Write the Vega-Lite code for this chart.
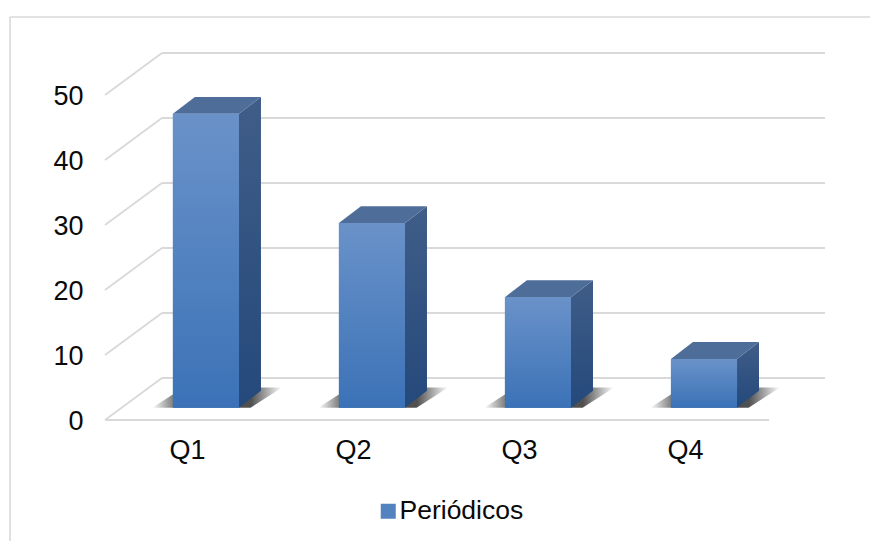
{
  "$schema": "https://vega.github.io/schema/vega-lite/v6.json",
  "width": 720,
  "height": 367,
  "autosize": {"type": "none"},
  "padding": {"left": 105, "top": 53, "right": 45, "bottom": 121},
  "background": "white",
  "config": {"view": {"stroke": null}, "font": "Liberation Sans"},
  "datasets": {
    "trimestres": [
      {"trimestre": "Q1", "orden": 0, "valor": 45.2, "serie": "Periódicos"},
      {"trimestre": "Q2", "orden": 1, "valor": 28.4, "serie": "Periódicos"},
      {"trimestre": "Q3", "orden": 2, "valor": 17.0, "serie": "Periódicos"},
      {"trimestre": "Q4", "orden": 3, "valor": 7.5, "serie": "Periódicos"}
    ],
    "niveles": [{"nivel": 0}, {"nivel": 10}, {"nivel": 20}, {"nivel": 30}, {"nivel": 40}, {"nivel": 50}]
  },
  "layer": [
    {
      "data": {"values": [{}]},
      "mark": {"type": "rule", "color": "#d9d9d9", "strokeWidth": 1.6},
      "encoding": {
        "x": {"datum": -0.572, "type": "quantitative", "scale": {"domain": [0, 4.337], "nice": false}, "axis": {
          "values": [0.5, 1.5, 2.5, 3.5],
          "labelExpr": "'Q' + (datum.value + 0.5)",
          "title": null, "domain": false, "ticks": false, "grid": false,
          "labelFontSize": 27, "labelColor": "#0a0a0a", "labelPadding": 17, "labelFlush": false, "labelOffset": -1
        }},
        "y": {"datum": 62.0, "type": "quantitative", "scale": {"domain": [0, 56.46], "nice": false}, "axis": {
          "values": [0, 10, 20, 30, 40, 50],
          "title": null, "domain": false, "ticks": false, "grid": false,
          "labelFontSize": 27, "labelColor": "#0a0a0a", "labelPadding": 22, "labelOffset": 1.5
        }},
        "y2": {"datum": -18.6}
      }
    },
    {
      "data": {"values": [{}]},
      "mark": {"type": "rule", "color": "#d9d9d9", "strokeWidth": 1.6},
      "encoding": {
        "x": {"datum": -0.572, "type": "quantitative"},
        "x2": {"datum": 4.62},
        "y": {"datum": 62.0, "type": "quantitative"}
      }
    },
    {
      "description": "Back wall gridlines",
      "data": {"name": "niveles"},
      "transform": [{"calculate": "datum.nivel + 6.46", "as": "fondo"}],
      "mark": {"type": "rule", "color": "#d9d9d9", "strokeWidth": 1.8},
      "encoding": {
        "x": {"datum": 0.343, "type": "quantitative"},
        "x2": {"datum": 4.337},
        "y": {"field": "fondo", "type": "quantitative"}
      }
    },
    {
      "description": "Diagonal side wall lines",
      "data": {"name": "niveles"},
      "transform": [
        {"calculate": "datum.nivel + 6.46", "as": "fondo"},
        {"calculate": "0", "as": "x0"},
        {"calculate": "0.343", "as": "x1"}
      ],
      "mark": {"type": "rule", "color": "#d9d9d9", "strokeWidth": 1.8},
      "encoding": {
        "x": {"field": "x0", "type": "quantitative"},
        "x2": {"field": "x1"},
        "y": {"field": "nivel", "type": "quantitative"},
        "y2": {"field": "fondo"}
      }
    },
    {
      "description": "Front floor edge",
      "data": {"values": [{}]},
      "mark": {"type": "rule", "color": "#d9d9d9", "strokeWidth": 1.8},
      "encoding": {
        "x": {"datum": 0, "type": "quantitative"},
        "x2": {"datum": 4},
        "y": {"datum": 0, "type": "quantitative"}
      }
    },
    {
      "description": "Soft shadow under each column",
      "data": {"name": "trimestres"},
      "transform": [
        {"calculate": "0", "as": "d0"},
        {"calculate": "1", "as": "d1"},
        {"fold": ["d0", "d1"], "as": ["clave", "d"]},
        {"calculate": "datum.orden + 0.5 + 0.108 - 0.199 - 0.125 + datum.d * 0.19", "as": "izq"},
        {"calculate": "datum.orden + 0.5 + 0.108 + 0.199 + 0.07 + datum.d * 0.19", "as": "der"},
        {"calculate": "1.9 + datum.d * 3.1", "as": "nivelSombra"}
      ],
      "mark": {
        "type": "area", "orient": "horizontal",
        "color": {
          "gradient": "linear", "x1": 0, "x2": 1, "y1": 0, "y2": 0,
          "stops": [
            {"offset": 0, "color": "rgba(80,80,80,0)"},
            {"offset": 0.22, "color": "rgba(80,80,80,1)"},
            {"offset": 0.76, "color": "rgba(80,80,80,1)"},
            {"offset": 1, "color": "rgba(80,80,80,0)"}
          ]
        }
      },
      "encoding": {
        "detail": {"field": "trimestre"},
        "x": {"field": "izq", "type": "quantitative", "stack": null},
        "x2": {"field": "der"},
        "y": {"field": "nivelSombra", "type": "quantitative"}
      }
    },
    {
      "description": "Side face of each column",
      "data": {"name": "trimestres"},
      "transform": [
        {"calculate": "0", "as": "d0"},
        {"calculate": "1", "as": "d1"},
        {"fold": ["d0", "d1"], "as": ["clave", "d"]},
        {"calculate": "datum.orden + 0.5 + 0.108 + 0.199 + datum.d * 0.1325", "as": "xCara"},
        {"calculate": "1.9 + datum.valor + datum.d * 2.6", "as": "arriba"},
        {"calculate": "1.9 + datum.d * 2.6", "as": "abajo"}
      ],
      "mark": {
        "type": "area", "orient": "vertical",
        "color": {
          "gradient": "linear", "x1": 0, "x2": 0, "y1": 0, "y2": 1,
          "stops": [{"offset": 0, "color": "#405d88"}, {"offset": 1, "color": "#24497b"}]
        }
      },
      "encoding": {
        "detail": {"field": "trimestre"},
        "x": {"field": "xCara", "type": "quantitative"},
        "y": {"field": "arriba", "type": "quantitative", "stack": null},
        "y2": {"field": "abajo"}
      }
    },
    {
      "description": "Top face of each column",
      "data": {"name": "trimestres"},
      "transform": [
        {"calculate": "0", "as": "d0"},
        {"calculate": "1", "as": "d1"},
        {"fold": ["d0", "d1"], "as": ["clave", "d"]},
        {"calculate": "datum.orden + 0.5 + 0.108 - 0.199 + datum.d * 0.1325", "as": "izq"},
        {"calculate": "datum.orden + 0.5 + 0.108 + 0.199 + datum.d * 0.1325", "as": "der"},
        {"calculate": "1.9 + datum.valor + datum.d * 2.6", "as": "arriba"}
      ],
      "mark": {"type": "area", "orient": "horizontal", "color": "#4e6d98"},
      "encoding": {
        "detail": {"field": "trimestre"},
        "x": {"field": "izq", "type": "quantitative", "stack": null},
        "x2": {"field": "der"},
        "y": {"field": "arriba", "type": "quantitative"}
      }
    },
    {
      "description": "Solid base of each front face, carrying the legend",
      "data": {"name": "trimestres"},
      "transform": [
        {"calculate": "datum.orden + 0.5 + 0.108 - 0.199", "as": "izq"},
        {"calculate": "datum.orden + 0.5 + 0.108 + 0.199", "as": "der"},
        {"calculate": "1.9 + datum.valor", "as": "arriba"},
        {"calculate": "1.9", "as": "abajo"}
      ],
      "mark": {"type": "rect"},
      "encoding": {
        "x": {"field": "izq", "type": "quantitative"},
        "x2": {"field": "der"},
        "y": {"field": "arriba", "type": "quantitative"},
        "y2": {"field": "abajo"},
        "color": {
          "field": "serie", "type": "nominal",
          "scale": {"range": ["#5282c0"]},
          "legend": {
            "title": null, "orient": "none", "legendX": 270, "legendY": 445,
            "symbolType": "square", "symbolSize": 225, "symbolStrokeWidth": 0,
            "labelFontSize": 26.5, "labelColor": "#0a0a0a", "labelOffset": -2,
            "symbolOpacity": 1,
            "encoding": {"symbols": {"fill": {"value": {
              "gradient": "linear", "x1": 0, "x2": 0, "y1": 0, "y2": 1,
              "stops": [{"offset": 0, "color": "#6a92c9"}, {"offset": 1, "color": "#3b72b7"}]
            }}}}
          }
        }
      }
    },
    {
      "description": "Shaded front face of each column",
      "data": {"name": "trimestres"},
      "transform": [
        {"calculate": "datum.orden + 0.5 + 0.108 - 0.199", "as": "izq"},
        {"calculate": "datum.orden + 0.5 + 0.108 + 0.199", "as": "der"},
        {"calculate": "1.9 + datum.valor", "as": "arriba"},
        {"calculate": "1.9", "as": "abajo"}
      ],
      "mark": {
        "type": "rect",
        "color": {
          "gradient": "linear", "x1": 0, "x2": 0, "y1": 0, "y2": 1,
          "stops": [{"offset": 0, "color": "#6a92c9"}, {"offset": 1, "color": "#3b72b7"}]
        }
      },
      "encoding": {
        "x": {"field": "izq", "type": "quantitative"},
        "x2": {"field": "der"},
        "y": {"field": "arriba", "type": "quantitative"},
        "y2": {"field": "abajo"}
      }
    }
  ]
}
